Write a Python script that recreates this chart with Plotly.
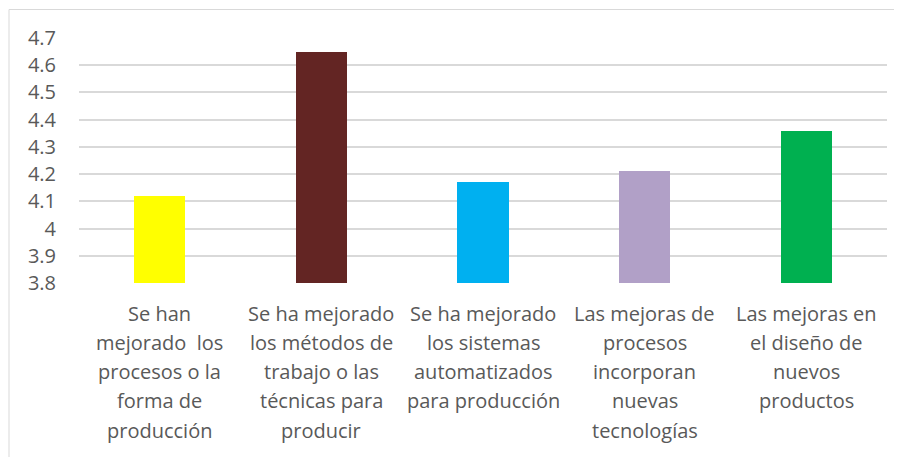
import plotly.graph_objects as go

categories = [
    "Se han mejorado  los procesos o la forma de producción",
    "Se ha mejorado los métodos de trabajo o las técnicas para producir",
    "Se ha mejorado los sistemas automatizados para producción",
    "Las mejoras de procesos incorporan nuevas tecnologías",
    "Las mejoras en el diseño de nuevos productos",
]
label_lines = [
    ["Se han", "mejorado  los", "procesos o la", "forma de", "producción"],
    ["Se ha mejorado", "los métodos de", "trabajo o las", "técnicas para", "producir"],
    ["Se ha mejorado", "los sistemas", "automatizados", "para producción"],
    ["Las mejoras de", "procesos", "incorporan", "nuevas", "tecnologías"],
    ["Las mejoras en", "el diseño de", "nuevos", "productos"],
]
values = [4.12, 4.65, 4.17, 4.21, 4.36]
colors = ["#FFFF00", "#632523", "#00B0F0", "#B1A0C7", "#00B050"]
y_tickvals = [3.8, 3.9, 4.0, 4.1, 4.2, 4.3, 4.4, 4.5, 4.6, 4.7]
y_ticktext = ["3.8", "3.9", "4", "4.1", "4.2", "4.3", "4.4", "4.5", "4.6", "4.7"]

# page body has an 8px default margin; figure is sized to fill the rest
OFF = 8
W, H = 902 - OFF, 457 - OFF
ml, mr, mt, mb = 79 - OFF, 15, 38 - OFF, 174
ph = H - mt - mb
pw = W - ml - mr

fig = go.Figure(go.Bar(
    x=list(range(len(categories))),
    y=values,
    marker=dict(color=colors, line=dict(width=0)),
    width=0.316,
    hovertext=categories,
))

font = dict(family="Open Sans", size=20, color="#595959")
line_step = 29.3
first_center = 313 - OFF
annotations = []
for i, lines in enumerate(label_lines):
    for j, txt in enumerate(lines):
        ypix = first_center + j * line_step
        annotations.append(dict(
            x=i, xref="x", y=(H - mb - ypix) / ph, yref="paper",
            text=txt, showarrow=False, xanchor="center", yanchor="middle",
            font=font,
        ))

fig.update_layout(
    width=W, height=H,
    margin=dict(l=ml, r=mr, t=mt, b=mb, pad=0),
    paper_bgcolor="white", plot_bgcolor="white",
    showlegend=False,
    bargap=0,
    annotations=annotations,
    xaxis=dict(range=[-0.5, 4.5], showticklabels=False, showgrid=False,
               zeroline=False, showline=False, fixedrange=True),
    yaxis=dict(range=[3.8, 4.7], tickvals=y_tickvals, ticktext=y_ticktext,
               showgrid=True, gridcolor="#D9D9D9", gridwidth=1.5,
               zeroline=False, showline=False, ticks="",
               ticklabelstandoff=22, tickfont=font),
    shapes=[dict(type="rect", xref="paper", yref="paper",
                 x0=(9 - OFF - ml) / pw, x1=1.2, y0=-1.0, y1=(H - mb - (9.5 - OFF)) / ph,
                 line=dict(color="#D9D9D9", width=1), fillcolor="rgba(0,0,0,0)",
                 layer="below")],
)

fig.write_html("out.html")
